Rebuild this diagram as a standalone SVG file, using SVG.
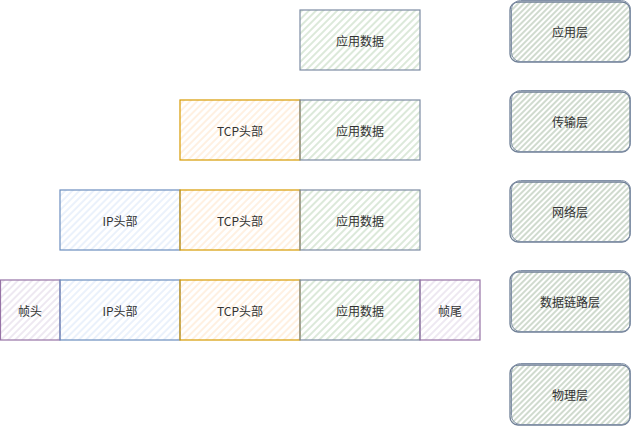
<svg xmlns="http://www.w3.org/2000/svg" width="633" height="429" viewBox="0 0 633 429">
<defs>
<pattern id="hG" width="5" height="5" patternUnits="userSpaceOnUse" patternTransform="rotate(45)"><line x1="1" y1="0" x2="1" y2="5" stroke="#b9d3b5" stroke-width="1"/></pattern>
<pattern id="hO" width="5" height="5" patternUnits="userSpaceOnUse" patternTransform="rotate(45)"><line x1="1" y1="0" x2="1" y2="5" stroke="#ffe2c4" stroke-width="1"/></pattern>
<pattern id="hB" width="5" height="5" patternUnits="userSpaceOnUse" patternTransform="rotate(45)"><line x1="1" y1="0" x2="1" y2="5" stroke="#d6e4f8" stroke-width="1"/></pattern>
<pattern id="hP" width="5" height="5" patternUnits="userSpaceOnUse" patternTransform="rotate(45)"><line x1="1" y1="0" x2="1" y2="5" stroke="#ddd2e4" stroke-width="1"/></pattern>
<pattern id="hL" width="4" height="4" patternUnits="userSpaceOnUse" patternTransform="rotate(45)"><line x1="1" y1="0" x2="1" y2="4" stroke="#a9bca6" stroke-width="1.1"/></pattern>
</defs>
<style>
.t{font-family:"Noto Sans CJK SC","Noto Sans",sans-serif;font-size:12px;fill:#333333;text-anchor:middle;dominant-baseline:central}
.g{fill:url(#hG);stroke:#7d8ca3;stroke-width:1.2}
.o{fill:url(#hO);stroke:#d79b00;stroke-width:1.2}
.b{fill:url(#hB);stroke:#6c8ebf;stroke-width:1.2}
.p{fill:url(#hP);stroke:#9673a6;stroke-width:1.2}
.l{fill:url(#hL);stroke:#6f7f96;stroke-width:1.3}
.l2{fill:none;stroke:#8392a8;stroke-width:1}
</style>
<g id="row1-app"><rect class="g" x="300" y="10" width="120" height="60"/><text class="t" x="360" y="40">应用数据</text></g>
<g id="row2-tcp"><rect class="o" x="180" y="100" width="120" height="60"/><text class="t" x="240" y="130">TCP头部</text></g>
<g id="row2-app"><rect class="g" x="300" y="100" width="120" height="60"/><text class="t" x="360" y="130">应用数据</text></g>
<g id="row3-ip"><rect class="b" x="60" y="190" width="120" height="60"/><text class="t" x="120" y="220">IP头部</text></g>
<g id="row3-tcp"><rect class="o" x="180" y="190" width="120" height="60"/><text class="t" x="240" y="220">TCP头部</text></g>
<g id="row3-app"><rect class="g" x="300" y="190" width="120" height="60"/><text class="t" x="360" y="220">应用数据</text></g>
<g id="row4-fh"><rect class="p" x="0.5" y="280" width="59.5" height="60"/><text class="t" x="30" y="310">帧头</text></g>
<g id="row4-ip"><rect class="b" x="60" y="280" width="120" height="60"/><text class="t" x="120" y="310">IP头部</text></g>
<g id="row4-tcp"><rect class="o" x="180" y="280" width="120" height="60"/><text class="t" x="240" y="310">TCP头部</text></g>
<g id="row4-app"><rect class="g" x="300" y="280" width="120" height="60"/><text class="t" x="360" y="310">应用数据</text></g>
<g id="row4-ft"><rect class="p" x="420" y="280" width="60" height="60"/><text class="t" x="450" y="310">帧尾</text></g>
<g id="layer-app"><rect class="l" x="510" y="2" width="120" height="60" rx="8"/><rect class="l2" x="511.5" y="0.5" width="119" height="61" rx="9"/><text class="t" x="570" y="31">应用层</text></g>
<g id="layer-transport"><rect class="l" x="510" y="92" width="120" height="60" rx="8"/><rect class="l2" x="511.5" y="90.5" width="119" height="61" rx="9"/><text class="t" x="570" y="121">传输层</text></g>
<g id="layer-network"><rect class="l" x="510" y="182" width="120" height="60" rx="8"/><rect class="l2" x="511.5" y="180.5" width="119" height="61" rx="9"/><text class="t" x="570" y="211">网络层</text></g>
<g id="layer-datalink"><rect class="l" x="510" y="272" width="120" height="60" rx="8"/><rect class="l2" x="511.5" y="270.5" width="119" height="61" rx="9"/><text class="t" x="570" y="301">数据链路层</text></g>
<g id="layer-physical"><rect class="l" x="510" y="365" width="120" height="60" rx="8"/><rect class="l2" x="511.5" y="363.5" width="119" height="61" rx="9"/><text class="t" x="570" y="394">物理层</text></g>
<g id="connectors"></g>
</svg>
